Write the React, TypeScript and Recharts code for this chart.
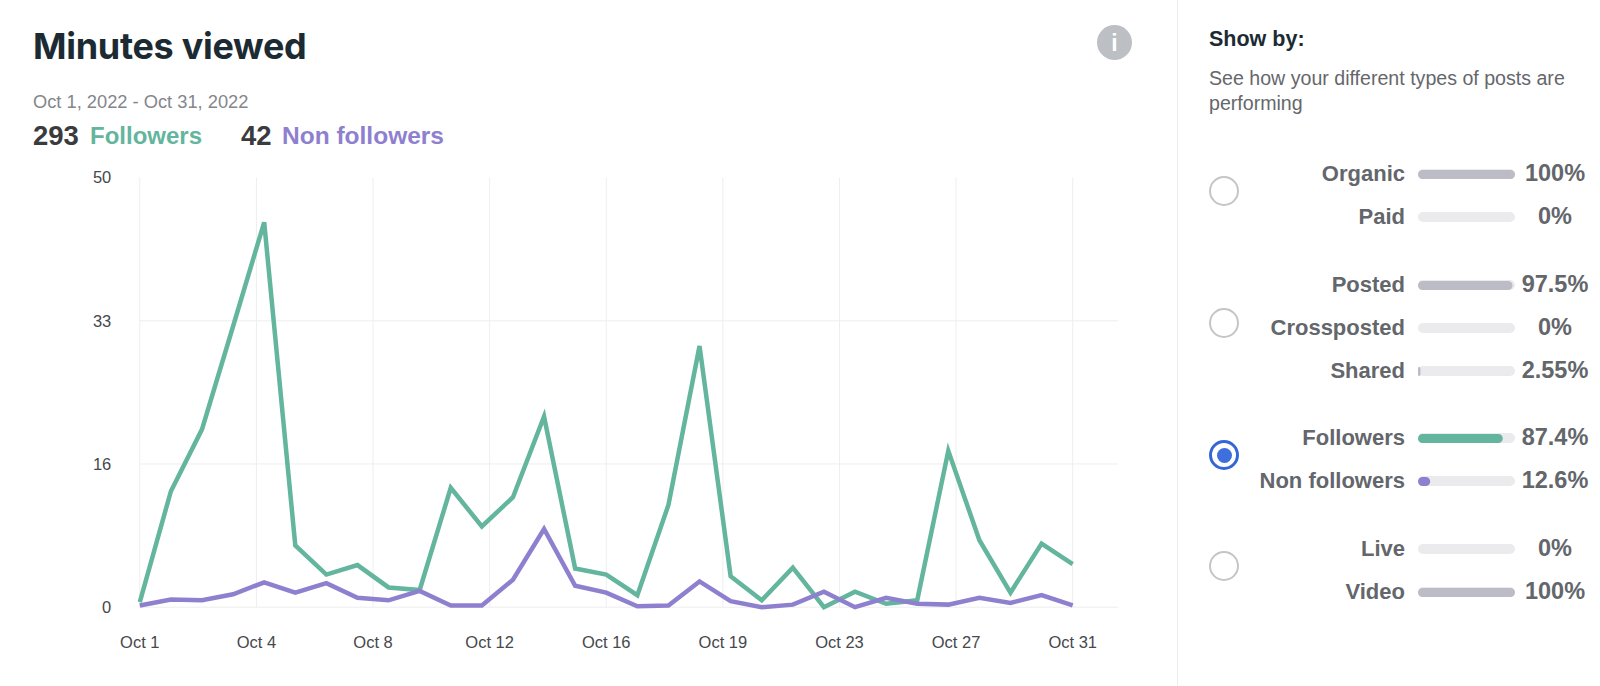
import React from "react";
import { LineChart, Line, XAxis, YAxis, CartesianGrid, BarChart, Bar } from "recharts";

const days = [1,2,3,4,5,6,7,8,9,10,11,12,13,14,15,16,17,18,19,20,21,22,23,24,25,26,27,28,29,30,31];
const followers = [0.6,13.5,20.7,32.7,44.8,7.2,3.8,4.9,2.3,2.0,13.9,9.4,12.8,22.2,4.5,3.8,1.4,11.9,30.4,3.6,0.8,4.6,0,1.8,0.4,0.8,18.2,7.8,1.7,7.4,5];
const nonFollowers = [0.2,0.9,0.8,1.5,2.9,1.7,2.8,1.1,0.8,1.9,0.2,0.2,3.2,9.1,2.5,1.7,0.1,0.2,3.0,0.7,0,0.3,1.8,0,1.1,0.4,0.3,1.1,0.5,1.4,0.2];
const xTicks = [1,4.75,8.5,12.25,16,19.75,23.5,27.25,31];
const yTicks = [0,16.67,33.33,50];
const chartData = days.map((day, i) => ({ day, followers: followers[i], nonFollowers: nonFollowers[i] }));

const groups = [
  { selected: false, rows: [
    { label: "Organic", value: 100, text: "100%" },
    { label: "Paid", value: 0, text: "0%" },
  ]},
  { selected: false, rows: [
    { label: "Posted", value: 97.5, text: "97.5%" },
    { label: "Crossposted", value: 0, text: "0%" },
    { label: "Shared", value: 2.55, text: "2.55%" },
  ]},
  { selected: true, rows: [
    { label: "Followers", value: 87.4, text: "87.4%", tone: "followers" },
    { label: "Non followers", value: 12.6, text: "12.6%", tone: "nonFollowers" },
  ]},
  { selected: false, rows: [
    { label: "Live", value: 0, text: "0%" },
    { label: "Video", value: 100, text: "100%" },
  ]},
];

const GREEN = "#63b59d";
const PURPLE = "#8f80cf";
const SANS = "'Liberation Sans', Arial, sans-serif";

function MiniBar({ value, fill }: { value: number; fill: string }) {
  return (
    <div style={{ width: 97, height: 10, borderRadius: 5, background: "#ebebed" }}>
      <BarChart width={97} height={10} layout="vertical" data={[{ name: "v", value }]} margin={{ top: 0, right: 0, bottom: 0, left: 0 }}>
        <XAxis type="number" hide domain={[0, 100]} />
        <YAxis type="category" dataKey="name" hide />
        <Bar dataKey="value" fill={fill} barSize={10} radius={5} isAnimationActive={false} />
      </BarChart>
    </div>
  );
}

function Radio({ selected, top }: { selected: boolean; top: number }) {
  return (
    <div style={{ position: "absolute", left: 1209, top, width: 30, height: 30, boxSizing: "border-box", borderRadius: "50%", border: selected ? "3px solid #3467d6" : "2px solid #c4c5c7", display: "flex", alignItems: "center", justifyContent: "center" }}>
      {selected && <div style={{ width: 15, height: 15, borderRadius: "50%", background: "#3f6fdc" }} />}
    </div>
  );
}

const abs = (left: number, top: number, extra: React.CSSProperties = {}): React.CSSProperties => ({ position: "absolute", left, top, whiteSpace: "nowrap", ...extra });

export default function App() {
  const rowH = 43;
  const gap = 24.5;
  let cursor = 152;
  const panel: React.ReactNode[] = [];
  groups.forEach((g, gi) => {
    const start = cursor;
    g.rows.forEach((r: any, ri) => {
      const fill = r.tone === "followers" ? GREEN : r.tone === "nonFollowers" ? PURPLE : "#bcbcc6";
      panel.push(
        <div key={gi + "-" + ri} style={{ position: "absolute", left: 0, top: cursor, width: 1600, height: rowH }}>
          <div style={{ position: "absolute", right: 1600 - 1405, top: 0, lineHeight: rowH + "px", fontSize: 22, fontWeight: 700, color: "#63666b", fontFamily: SANS, whiteSpace: "nowrap" }}>{r.label}</div>
          <div style={{ position: "absolute", left: 1418, top: 17 }}><MiniBar value={r.value} fill={fill} /></div>
          <div style={{ position: "absolute", left: 1510, width: 90, top: 0, textAlign: "center", lineHeight: rowH + "px", fontSize: 23.5, fontWeight: 700, color: "#63666b", fontFamily: SANS }}>{r.text}</div>
        </div>
      );
      cursor += rowH;
    });
    panel.push(<Radio key={"r" + gi} selected={g.selected} top={(start + cursor) / 2 - 19} />);
    cursor += gap;
  });

  return (
    <div style={{ position: "absolute", left: 0, top: 0, width: 1600, height: 686, background: "#fff", overflow: "hidden", fontFamily: SANS }}>
      <div style={abs(33, 23, { fontFamily: "Inter, sans-serif", fontWeight: 700, fontSize: 36, lineHeight: "46px", color: "#1c2b33", letterSpacing: -0.3 })}>Minutes viewed</div>
      <svg style={abs(1097, 25)} width={35} height={35}>
        <circle cx={17.5} cy={17.5} r={17.5} fill="#bcc0c4" />
        <text x={17.5} y={26} textAnchor="middle" fontSize={23} fontWeight={700} fill="#fff" fontFamily={SANS}>i</text>
      </svg>
      <div style={abs(33, 92, { fontSize: 18.3, lineHeight: "20px", color: "#84868b" })}>Oct 1, 2022 - Oct 31, 2022</div>
      <div style={abs(33, 121, { fontSize: 27.5, fontWeight: 700, lineHeight: "30px", color: "#3a3b3f" })}>293</div>
      <div style={abs(90, 121, { fontSize: 24, fontWeight: 700, lineHeight: "30px", color: GREEN })}>Followers</div>
      <div style={abs(241, 121, { fontSize: 27.5, fontWeight: 700, lineHeight: "30px", color: "#3a3b3f" })}>42</div>
      <div style={abs(282, 121, { fontSize: 24.5, fontWeight: 700, lineHeight: "30px", color: PURPLE })}>Non followers</div>

      <div style={abs(0, 0)}>
        <LineChart width={1175} height={686} data={chartData} margin={{ top: 177.6, right: 56.6, bottom: 38.8, left: 89.8 }}>
          <CartesianGrid stroke="#eeeef0" strokeWidth={1} horizontalValues={[0, 16.67, 33.33]} verticalValues={xTicks} />
          <XAxis dataKey="day" type="number" domain={[1, 32.47]} ticks={xTicks} tickFormatter={(v: number) => "Oct " + Math.floor(v)} interval={0} axisLine={false} tickLine={false} tickSize={0} tickMargin={29} tick={{ fontSize: 16.5, fill: "#46484c", fontFamily: SANS }} height={40} />
          <YAxis type="number" domain={[0, 50]} ticks={yTicks} tickFormatter={(v: number) => String(Math.floor(v))} interval={0} axisLine={false} tickLine={false} tickSize={0} tickMargin={28.5} width={50} tick={{ fontSize: 16.5, fill: "#46484c", fontFamily: SANS }} />
          <Line dataKey="followers" type="linear" stroke={GREEN} strokeWidth={4.5} dot={false} isAnimationActive={false} />
          <Line dataKey="nonFollowers" type="linear" stroke={PURPLE} strokeWidth={4.5} dot={false} isAnimationActive={false} />
        </LineChart>
      </div>

      <div style={{ position: "absolute", left: 1177, top: 0, width: 1, height: 686, background: "#ededef" }} />
      <div style={abs(1209, 27, { fontSize: 21.5, fontWeight: 700, lineHeight: "24px", color: "#1c2b33" })}>Show by:</div>
      <div style={abs(1209, 66, { fontSize: 19.6, lineHeight: "24.5px", color: "#65676b", whiteSpace: "normal", width: 380 })}>See how your different types of posts are performing</div>
      {panel}
    </div>
  );
}
